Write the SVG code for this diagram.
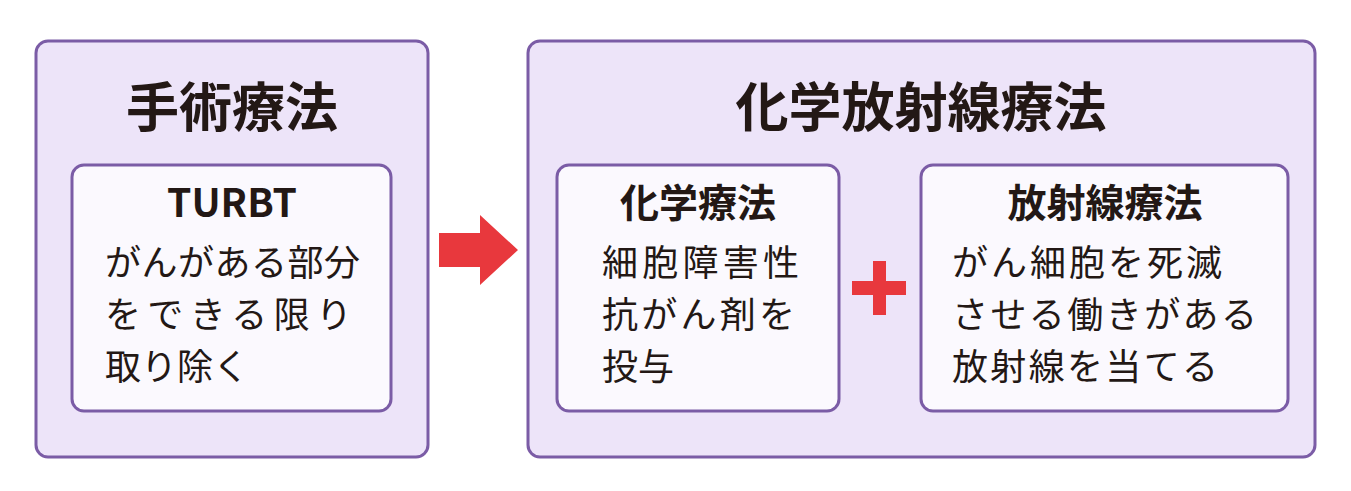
<svg xmlns="http://www.w3.org/2000/svg" width="1351" height="491" viewBox="0 0 1351 491">
<style>
.outer{fill:#ede4f9;stroke:#7b5ca6;stroke-width:3}
.inner{fill:#fbf9fe;stroke:#7b5ca6;stroke-width:3}
text{font-family:"Noto Sans CJK JP","Noto Sans",sans-serif;fill:#231815}
.t1{font-size:53px;font-weight:700;text-anchor:middle}
.t2{font-size:39px;font-weight:700;text-anchor:middle}
.b{font-size:36px}
</style>
<rect width="1351" height="491" fill="#fff"/>
<g id="surgery">
<rect class="outer" x="36" y="41" width="392" height="416" rx="12"/>
<text class="t1" x="232" y="127">手術療法</text>
</g>
<g id="turbt">
<rect class="inner" x="72" y="165" width="319" height="246" rx="12"/>
<text class="t2" x="232" y="217">TURBT</text>
<text class="b" x="105" y="276" textLength="255" lengthAdjust="spacing">がんがある部分</text>
<text class="b" x="105" y="328" textLength="247" lengthAdjust="spacing">をできる限り</text>
<text class="b" x="105" y="380">取り除く</text>
</g>
<g id="chemoradiation">
<rect class="outer" x="528" y="41" width="787" height="416" rx="12"/>
<text class="t1" x="921" y="127">化学放射線療法</text>
</g>
<g id="chemo">
<rect class="inner" x="557" y="165" width="282" height="246" rx="12"/>
<text class="t2" x="698" y="217">化学療法</text>
<text class="b" x="602" y="276" textLength="197" lengthAdjust="spacing">細胞障害性</text>
<text class="b" x="602" y="328" textLength="193" lengthAdjust="spacing">抗がん剤を</text>
<text class="b" x="602" y="380">投与</text>
</g>
<g id="radiation">
<rect class="inner" x="921" y="165" width="367" height="246" rx="12"/>
<text class="t2" x="1105" y="217">放射線療法</text>
<text class="b" x="952" y="276" textLength="270" lengthAdjust="spacing">がん細胞を死滅</text>
<text class="b" x="952" y="328" textLength="305" lengthAdjust="spacing">させる働きがある</text>
<text class="b" x="952" y="380" textLength="266" lengthAdjust="spacing">放射線を当てる</text>
</g>
<g id="connectors">
<polygon points="439,233 480,233 480,215 518,250 480,285 480,267 439,267" fill="#e8383d"/>
<path d="M852 281h54v14h-54z M873 261h13v54h-13z" fill="#e8383d"/>
</g>
</svg>
